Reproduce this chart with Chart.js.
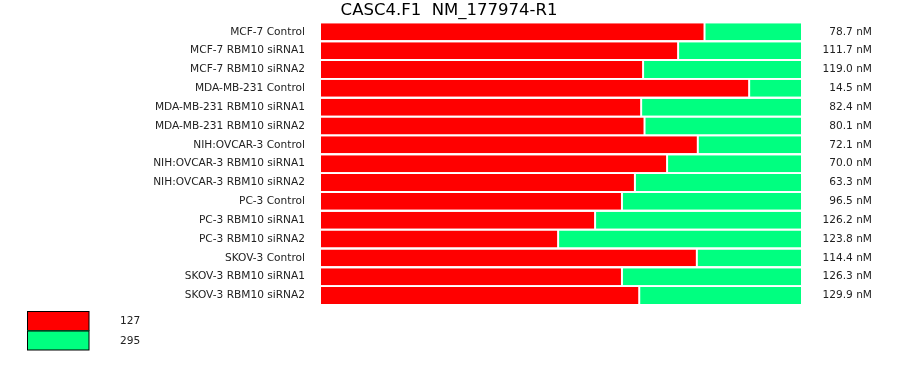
<!DOCTYPE html>
<html>
<head>
<meta charset="utf-8">
<script src="https://cdn.jsdelivr.net/npm/chart.js@4.4.1/dist/chart.umd.min.js"></script>
<style>
    html, body { margin: 0; padding: 0; background: #fff; }
    #wrap { width: 900px; height: 375px; }
</style>
</head>
<body>
<div id="wrap"><canvas id="chart"></canvas></div>
<script>
const samples = [
    'MCF-7 Control', 'MCF-7 RBM10 siRNA1', 'MCF-7 RBM10 siRNA2',
    'MDA-MB-231 Control', 'MDA-MB-231 RBM10 siRNA1', 'MDA-MB-231 RBM10 siRNA2',
    'NIH:OVCAR-3 Control', 'NIH:OVCAR-3 RBM10 siRNA1', 'NIH:OVCAR-3 RBM10 siRNA2',
    'PC-3 Control', 'PC-3 RBM10 siRNA1', 'PC-3 RBM10 siRNA2',
    'SKOV-3 Control', 'SKOV-3 RBM10 siRNA1', 'SKOV-3 RBM10 siRNA2'
];
const concentrations = [
    '78.7 nM', '111.7 nM', '119.0 nM', '14.5 nM', '82.4 nM', '80.1 nM',
    '72.1 nM', '70.0 nM', '63.3 nM', '96.5 nM', '126.2 nM', '123.8 nM',
    '114.4 nM', '126.3 nM', '129.9 nM'
];
// percent share of each product per sample
const product127 = [79.9, 74.4, 67.1, 89.2, 66.7, 67.4, 78.5, 72.1, 65.4, 62.7, 57.1, 49.4, 78.3, 62.7, 66.3];
const product295 = [20.1, 25.6, 32.9, 10.8, 33.3, 32.6, 21.5, 27.9, 34.6, 37.3, 42.9, 50.6, 21.7, 37.3, 33.7];
const seriesNames = ['127', '295'];
const seriesColors = ['#ff0000', '#00ff80'];
const chartTitle = 'CASC4.F1  NM_177974-R1';

const FONT = 'DejaVu Sans, Verdana, sans-serif';
const LABEL_SIZE = 10.6;

// title centred on the page, legend drawn bottom-left as stacked boxes
const decorations = {
    id: 'decorations',
    afterDraw(chart) {
        const ctx = chart.ctx;
        ctx.save();
        ctx.fillStyle = '#000';
        ctx.font = '16.5px ' + FONT;
        ctx.textAlign = 'center';
        ctx.textBaseline = 'alphabetic';
        ctx.fillText(chartTitle, chart.width / 2 - 1, 15);

        ctx.font = LABEL_SIZE + 'px ' + FONT;
        ctx.textBaseline = 'middle';
        ctx.textAlign = 'left';
        chart.data.datasets.forEach((ds, i) => {
            const y = 311 + i * 19.5;
            ctx.fillStyle = ds.backgroundColor;
            ctx.fillRect(27, y, 62, 19.5);
            ctx.strokeStyle = '#000';
            ctx.lineWidth = 1;
            ctx.strokeRect(27.5, y + 0.5, 61.5, 19);
            ctx.fillStyle = '#222';
            ctx.fillText(ds.label, 120, y + 10.5);
        });
        ctx.restore();
    }
};

new Chart(document.getElementById('chart'), {
    type: 'bar',
    data: {
        labels: samples,
        datasets: [
            {
                label: seriesNames[0],
                data: product127,
                backgroundColor: seriesColors[0],
                borderColor: '#fff',
                borderWidth: { top: 0, bottom: 0, left: 0, right: 1 },
                borderSkipped: false,
            },
            {
                label: seriesNames[1],
                data: product295,
                backgroundColor: seriesColors[1],
                borderColor: '#fff',
                borderWidth: { top: 0, bottom: 0, left: 1, right: 0 },
                borderSkipped: false,
            },
        ],
    },
    options: {
        indexAxis: 'y',
        responsive: true,
        maintainAspectRatio: false,
        animation: false,
        layout: { padding: { left: 0, right: 28, top: 20, bottom: 70 } },
        datasets: { bar: { barPercentage: 0.9, categoryPercentage: 1 } },
        scales: {
            x: { stacked: true, min: 0, max: 100, display: false },
            y: {
                stacked: true,
                grid: { display: false, drawTicks: false },
                border: { display: false },
                ticks: { padding: 16, color: '#222', font: { family: FONT, size: LABEL_SIZE } },
                afterFit: scale => { scale.width = 321; },
            },
            y2: {
                type: 'category',
                labels: concentrations,
                position: 'right',
                offset: true,
                grid: { display: false, drawTicks: false },
                border: { display: false },
                ticks: { crossAlign: 'far', color: '#222', font: { family: FONT, size: LABEL_SIZE } },
                afterFit: scale => { scale.width = 71; },
            },
        },
        plugins: {
            legend: { display: false },
            tooltip: { enabled: false },
            title: { display: false },
        },
    },
    plugins: [decorations],
});
</script>
</body>
</html>
